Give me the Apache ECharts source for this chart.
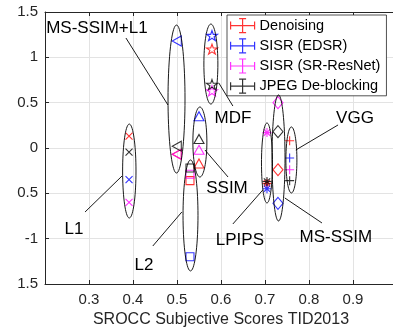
<!DOCTYPE html>
<html><head><meta charset="utf-8">
<script src="https://cdn.jsdelivr.net/npm/echarts@6/dist/echarts.min.js"></script>
<style>html,body{margin:0;padding:0;background:#fff}#c{width:393px;height:329px}</style>
</head><body><div id="c"></div>
<script>
// ---- data ----
var methods = ['L1', 'MS-SSIM+L1', 'L2', 'SSIM', 'MDF', 'LPIPS', 'MS-SSIM', 'VGG'];
var methodX = [0.391, 0.4995, 0.5295, 0.55, 0.5795, 0.7045, 0.7295, 0.756];
var tasks = ['Denoising', 'SISR (EDSR)', 'SISR (SR-ResNet)', 'JPEG De-blocking'];
var denoising = [0.13, -0.07, -0.36, -0.17, 1.09, -0.39, -0.24, 0.08];
var sisrEDSR = [-0.35, 1.18, -1.2, 0.35, 1.24, -0.45, -0.61, -0.11];
var sisrSRResNet = [-0.6, -0.07, -0.29, -0.02, 0.63, 0.17, 0.5, -0.24];
var jpegDeblocking = [-0.045, 0.02, -0.22, 0.1, 0.7, -0.37, 0.18, -0.36];
var xTicks = [0.2, 0.3, 0.4, 0.5, 0.6, 0.7, 0.8, 0.9, 1.0];
var yTicks = [-1.5, -1, -0.5, 0, 0.5, 1, 1.5];
// ellipse groups: [cx, cy, rx, ry] in data units
var ellipses = [
  [0.3916, -0.254, 0.0152, 0.518],
  [0.4989, 0.540, 0.0193, 0.816],
  [0.5307, -0.744, 0.0170, 0.612],
  [0.552, 0.066, 0.0159, 0.386],
  [0.577, 0.926, 0.0159, 0.441],
  [0.7045, -0.165, 0.0125, 0.441],
  [0.7307, -0.110, 0.0148, 0.695],
  [0.760, -0.132, 0.0125, 0.364]
];
// annotations: text position, leader line from -> to (data units)
var annText = ['L1', 'MS-SSIM+L1', 'L2', 'SSIM', 'MDF', 'LPIPS', 'MS-SSIM', 'VGG'];
var annPos = [[0.266, -0.893], [0.318, 1.324], [0.425, -1.29], [0.6136, -0.441], [0.627, 0.331], [0.643, -1.015], [0.861, -0.982], [0.9045, 0.331]];
var annLine = [
  [0.291, -0.706, 0.375, -0.309],
  [0.384, 1.213, 0.4795, 0.474],
  [0.445, -1.081, 0.511, -0.706],
  [0.5636, -0.022, 0.616, -0.320],
  [0.595, 0.717, 0.627, 0.463],
  [0.627, -0.838, 0.695, -0.463],
  [0.8295, -0.827, 0.745, -0.551],
  [0.866, 0.254, 0.770, -0.022]
];

// ---- styles ----
var colors = ['#ff0000', '#0000ff', '#ff00ff', '#000000'];
var symbols = [
  'path://M0,0L10,10M10,0L0,10',
  'path://M0,5L10,0L10,10Z',
  'rect',
  'triangle',
  'path://M50,0L61.2,34.5L97.6,34.5L68.2,55.9L79.4,90.5L50,69.1L20.6,90.5L31.8,55.9L2.4,34.5L38.8,34.5Z',
  'path://M5,0L5,10M0,5L10,5M1.5,1.5L8.5,8.5M8.5,1.5L1.5,8.5',
  'diamond',
  'path://M5,0L5,10M0,5L10,5'
];
var sizes = [[7, 7], [9, 10], [8, 8], [10, 9], [11, 10], [9, 9], [10, 12], [9, 9]];
var errIcon = 'path://M0,7L24,7M12,0L12,14M0,3L0,11M24,3L24,11M8.5,0L15.5,0M8.5,14L15.5,14';
var FONT = 'Liberation Sans, Arial, sans-serif';
var allSeries = [denoising, sisrEDSR, sisrSRResNet, jpegDeblocking];

function fmtY(v) {
  // reference figure shows negative labels with the minus clipped at the left edge except -1
  if (v === -0.5) return '0.5';
  if (v === -1.5) return '1.5';
  return String(v);
}

var series = [];
allSeries.forEach(function (vals, t) {
  series.push({
    name: tasks[t], type: 'scatter', z: 3,
    itemStyle: { color: 'rgba(0,0,0,0)', borderColor: colors[t], borderWidth: 1.1 },
    emphasis: { disabled: true },
    data: vals.map(function (v, i) {
      return { value: [methodX[i], v], symbol: symbols[i], symbolSize: sizes[i] };
    })
  });
});
series.push({
  type: 'custom', z: 4, silent: true,
  data: ellipses,
  renderItem: function (params, api) {
    var c = api.coord([api.value(0), api.value(1)]);
    var s = api.size([api.value(2), api.value(3)]);
    var pts = [];
    for (var k = 0; k < 72; k++) {
      var a = k / 72 * Math.PI * 2;
      pts.push([c[0] + s[0] * Math.cos(a), c[1] + s[1] * Math.sin(a)]);
    }
    return { type: 'polygon', shape: { points: pts }, style: { fill: 'none', stroke: '#000', lineWidth: 0.9 } };
  }
});
series.push({
  type: 'custom', z: 5, silent: true,
  data: annText.map(function (t, i) { return { name: t, value: [annPos[i][0], annPos[i][1]].concat(annLine[i]) }; }),
  renderItem: function (params, api) {
    var p = api.coord([api.value(0), api.value(1)]);
    var a = api.coord([api.value(2), api.value(3)]);
    var b = api.coord([api.value(4), api.value(5)]);
    return {
      type: 'group', children: [
        { type: 'line', shape: { x1: a[0], y1: a[1], x2: b[0], y2: b[1] }, style: { stroke: '#000', lineWidth: 0.9 } },
        { type: 'text', style: { text: annText[params.dataIndex], x: p[0], y: p[1], textAlign: 'center', textVerticalAlign: 'middle', align: 'center', verticalAlign: 'middle', font: '17px ' + FONT, fill: '#000' } }
      ]
    };
  }
});

var chart = echarts.init(document.getElementById('c'), null, { renderer: 'canvas' });
var axisCol = '#262626';
chart.setOption({
  animation: false,
  backgroundColor: '#fff',
  textStyle: { fontFamily: FONT },
  grid: { left: 45, top: 12, width: 352, height: 272, containLabel: false, outerBoundsMode: 'none' },
  legend: {
    orient: 'vertical', left: 227, top: 15,
    padding: [3, 6, 2, 3], itemGap: 5, itemWidth: 24, itemHeight: 14,
    backgroundColor: '#fff', borderColor: axisCol, borderWidth: 0.8,
    textStyle: { fontSize: 14.5, color: '#000', lineHeight: 14, fontFamily: FONT },
    data: tasks.map(function (t, i) { return { name: t, icon: errIcon, itemStyle: { color: 'rgba(0,0,0,0)', borderWidth: 1.2, borderColor: colors[i] } }; })
  },
  xAxis: [{
    type: 'value', min: xTicks[0], max: xTicks[xTicks.length - 1], interval: 0.1,
    name: 'SROCC Subjective Scores TID2013', nameLocation: 'middle', nameGap: 24,
    nameTextStyle: { fontSize: 16, color: axisCol, fontFamily: FONT },
    axisLine: { onZero: false, lineStyle: { color: axisCol, width: 1 } },
    axisTick: { inside: true, length: 4, lineStyle: { color: axisCol } },
    axisLabel: { fontSize: 15, color: axisCol, margin: 8, showMinLabel: false, showMaxLabel: false, formatter: function (v) { return String(Math.round(v * 10) / 10); } },
    splitLine: { show: true, lineStyle: { color: '#e3e3e3', width: 1 } }
  }, {
    type: 'value', position: 'top', min: xTicks[0], max: xTicks[xTicks.length - 1], interval: 0.1,
    axisLine: { show: true, onZero: false, lineStyle: { color: axisCol, width: 1 } },
    axisTick: { inside: true, length: 4, lineStyle: { color: axisCol } },
    axisLabel: { show: false }, splitLine: { show: false }
  }],
  yAxis: [{
    type: 'value', min: yTicks[0], max: yTicks[yTicks.length - 1], interval: 0.5,
    axisLine: { show: true, onZero: false, lineStyle: { color: axisCol, width: 1 } },
    axisTick: { show: true, inside: true, length: 4, lineStyle: { color: axisCol } },
    axisLabel: { fontSize: 15, color: axisCol, margin: 7, formatter: fmtY },
    splitLine: { show: true, lineStyle: { color: '#e3e3e3', width: 1 } }
  }, {
    type: 'value', position: 'right', min: yTicks[0], max: yTicks[yTicks.length - 1], interval: 0.5,
    axisLine: { show: true, onZero: false, lineStyle: { color: axisCol, width: 1 } },
    axisTick: { show: true, inside: true, length: 4 }, axisLabel: { show: false }, splitLine: { show: false }
  }],
  series: series
});
</script></body></html>
